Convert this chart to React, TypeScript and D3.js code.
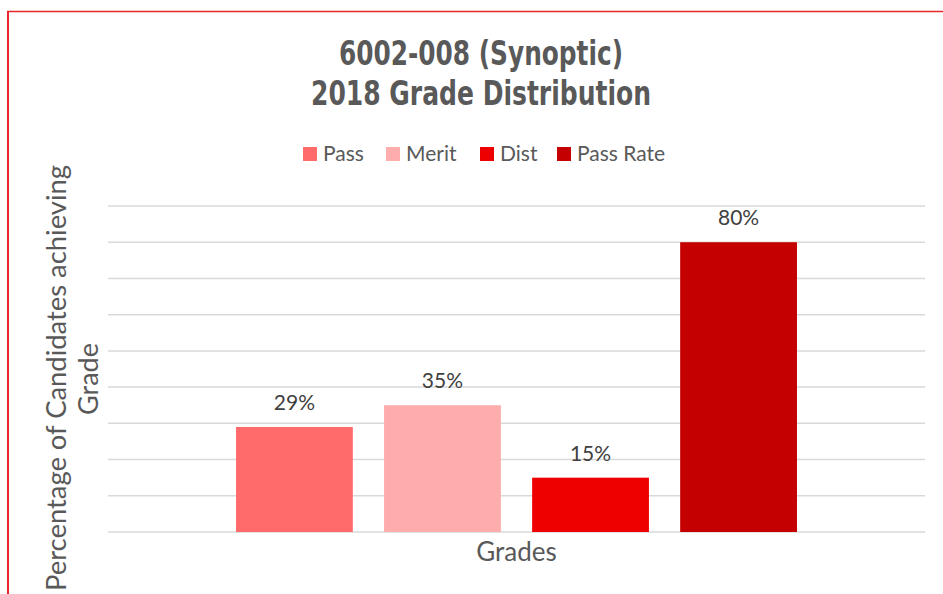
import React from "react";
import * as d3 from "d3";

const series = ["Pass", "Merit", "Dist", "Pass Rate"];
const values = [29, 35, 15, 80];
const colors = ["#ff6b6b", "#ffacac", "#ee0000", "#c50000"];
const yTicks = [0, 10, 20, 30, 40, 50, 60, 70, 80, 90];
const titleLines = ["6002-008 (Synoptic)", "2018 Grade Distribution"];
const yTitleLines = ["Percentage of Candidates achieving", "Grade"];
const xTitle = "Grades";

const W = 943;
const H = 594;
const plot = { left: 108, right: 925, top: 206, bottom: 532 };

export default function App() {
  const y = d3.scaleLinear().domain([0, 90]).range([plot.bottom, plot.top]);
  const x = d3
    .scaleBand<string>()
    .domain(series)
    .range([220.4, 812.6])
    .paddingInner(0.211)
    .paddingOuter(0.1055);
  const font = "Lato, 'Noto Sans', sans-serif";
  const legendX = [303, 386, 480, 557];
  const cx = (plot.left + plot.right) / 2;
  return (
    <svg
      width={W}
      height={H}
      style={{ position: "absolute", left: 0, top: 0, display: "block", background: "#fff" }}
    >
      <rect x={0} y={0} width={W} height={H} fill="#fff" />
      {/* frame */}
      <line x1={7} x2={W} y1={11.5} y2={11.5} stroke="#e8262b" strokeWidth={1.3} />
      <line x1={8} x2={8} y1={11} y2={H} stroke="#e8262b" strokeWidth={2} />

      {/* title */}
      <text
        x={481}
        y={65}
        textAnchor="middle"
        fontFamily="'DejaVu Sans Condensed', 'DejaVu Sans', sans-serif"
        fontWeight="bold"
        fontSize={33}
        fill="#595959"
        textLength={284}
        lengthAdjust="spacingAndGlyphs"
      >
        {titleLines[0]}
      </text>
      <text
        x={481}
        y={105}
        textAnchor="middle"
        fontFamily="'DejaVu Sans Condensed', 'DejaVu Sans', sans-serif"
        fontWeight="bold"
        fontSize={33}
        fill="#595959"
        textLength={340}
        lengthAdjust="spacingAndGlyphs"
      >
        {titleLines[1]}
      </text>

      {/* legend */}
      {series.map((s, i) => (
        <g key={s}>
          <rect x={legendX[i]} y={147} width={14} height={14} fill={colors[i]} />
          <text
            x={legendX[i] + 20}
            y={161}
            fontFamily={font}
            fontSize={21}
            fill="#595959"
          >
            {s}
          </text>
        </g>
      ))}

      {/* gridlines */}
      {yTicks.map((t) => (
        <line
          key={t}
          x1={plot.left}
          x2={plot.right}
          y1={y(t)}
          y2={y(t)}
          stroke="#d9d9d9"
          strokeWidth={1.5}
        />
      ))}

      {/* bars */}
      {series.map((s, i) => (
        <g key={s}>
          <rect
            x={x(s)}
            y={y(values[i])}
            width={x.bandwidth()}
            height={y(0) - y(values[i])}
            fill={colors[i]}
          />
          <text
            x={(x(s) as number) + x.bandwidth() / 2}
            y={y(values[i]) - 17}
            textAnchor="middle"
            fontFamily={font}
            fontSize={21}
            fill="#404040"
          >
            {values[i]}%
          </text>
        </g>
      ))}

      {/* x title */}
      <text x={cx} y={561} textAnchor="middle" fontFamily={font} fontSize={26} fill="#595959">
        {xTitle}
      </text>

      {/* y title */}
      <text
        transform={`translate(66,378) rotate(-90)`}
        textAnchor="middle"
        fontFamily={font}
        fontSize={27}
        fill="#595959"
        textLength={426}
        lengthAdjust="spacingAndGlyphs"
      >
        {yTitleLines[0]}
      </text>
      <text
        transform={`translate(98,379) rotate(-90)`}
        textAnchor="middle"
        fontFamily={font}
        fontSize={27}
        fill="#595959"
      >
        {yTitleLines[1]}
      </text>
    </svg>
  );
}
